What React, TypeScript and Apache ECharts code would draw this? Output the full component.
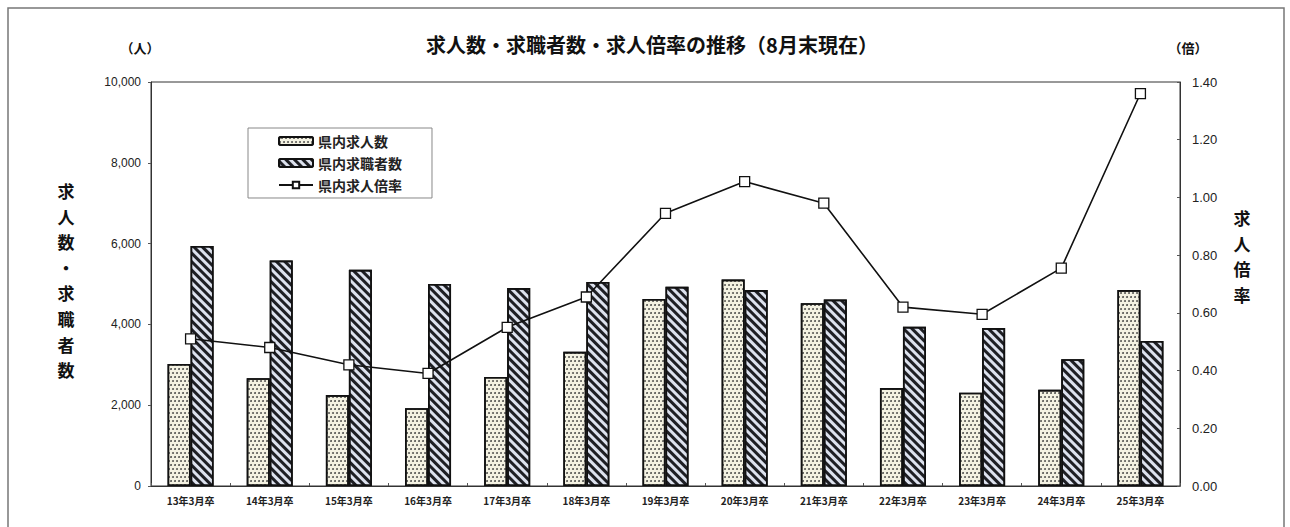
import React, { useEffect, useRef } from "react";
import * as echarts from "echarts";

const categories = [
  "13年3月卒", "14年3月卒", "15年3月卒", "16年3月卒", "17年3月卒", "18年3月卒", "19年3月卒",
  "20年3月卒", "21年3月卒", "22年3月卒", "23年3月卒", "24年3月卒", "25年3月卒",
];
const jobOffers = [3020, 2670, 2250, 1925, 2700, 3320, 4630, 5110, 4525, 2425, 2310, 2380, 4850];
const jobSeekers = [5940, 5580, 5350, 5000, 4900, 5050, 4930, 4850, 4615, 3940, 3910, 3140, 3590];
const offerRatio = [0.51, 0.48, 0.42, 0.39, 0.55, 0.655, 0.945, 1.055, 0.98, 0.62, 0.595, 0.755, 1.36];
const leftTicks = ["0", "2,000", "4,000", "6,000", "8,000", "10,000"];
const rightTicks = ["0.00", "0.20", "0.40", "0.60", "0.80", "1.00", "1.20", "1.40"];

const FONT = "'Noto Sans CJK JP', 'Liberation Sans', sans-serif";

export default function App() {
  const ref = useRef<HTMLDivElement>(null);
  useEffect(() => {
    if (!ref.current) return;
    const chart = echarts.init(ref.current, undefined, { renderer: "svg" });
    const option: any = {
      animation: false,
      backgroundColor: "#ffffff",
      textStyle: { fontFamily: FONT },
      grid: {
        left: 151, right: 110, top: 82, bottom: 41,
        show: true, borderColor: "#333", borderWidth: 1, backgroundColor: "transparent",
      },
      legend: {
        orient: "vertical",
        left: 248, top: 128,
        padding: [6, 30, 6, 30],
        itemGap: 8,
        itemWidth: 34, itemHeight: 8,
        borderColor: "#888", borderWidth: 1,
        backgroundColor: "#fff",
        textStyle: { fontSize: 14, fontWeight: "bold", color: "#222", fontFamily: FONT },
        data: ["県内求人数", "県内求職者数", "県内求人倍率"],
      },
      xAxis: {
        type: "category",
        data: categories,
        axisLine: { lineStyle: { color: "#333", width: 1 } },
        axisTick: { show: true, inside: true, length: 3, lineStyle: { color: "#555" } },
        axisLabel: { fontSize: 10, fontWeight: "bold", color: "#222", margin: 9, fontFamily: FONT },
      },
      yAxis: [
        {
          type: "value", min: 0, max: 10000, interval: 2000,
          axisLine: { show: true, lineStyle: { color: "#333" } },
          axisTick: { show: true, length: 3, lineStyle: { color: "#555" } },
          splitLine: { show: false },
          axisLabel: {
            fontSize: 12, color: "#222", margin: 10, fontFamily: "'Liberation Sans', sans-serif",
            formatter: (v: number) => leftTicks[Math.round(v / 2000)] ?? "",
          },
        },
        {
          type: "value", min: 0, max: 1.4, interval: 0.2,
          axisLine: { show: true, lineStyle: { color: "#333" } },
          axisTick: { show: true, inside: true, length: 3, lineStyle: { color: "#555" } },
          splitLine: { show: false },
          axisLabel: {
            fontSize: 13, color: "#222", margin: 12, fontFamily: "'Liberation Sans', sans-serif",
            formatter: (v: number) => rightTicks[Math.round(v / 0.2)] ?? "",
          },
        },
      ],
      series: [
        {
          name: "県内求人数",
          type: "bar",
          data: jobOffers,
          barWidth: 23,
          barGap: "0%",
          itemStyle: {
            color: "#f4f2e2",
            borderColor: "#111",
            borderWidth: 1.6,
            decal: {
              symbol: "circle",
              symbolSize: 0.9,
              color: "rgba(50,50,50,0.9)",
              dashArrayX: [[2, 2], [0, 2, 2, 0]],
              dashArrayY: [2, 1.2],
              rotation: 0,
            },
          },
        },
        {
          name: "県内求職者数",
          type: "bar",
          data: jobSeekers,
          barWidth: 23,
          barGap: "0%",
          itemStyle: {
            color: "#dde2ee",
            borderColor: "#111",
            borderWidth: 1.6,
            decal: {
              symbol: "rect",
              symbolSize: 1,
              color: "rgba(20,20,25,0.95)",
              dashArrayX: [1, 0],
              dashArrayY: [2.6, 2.4],
              rotation: Math.PI / 4,
            },
          },
        },
        {
          name: "県内求人倍率",
          type: "line",
          yAxisIndex: 1,
          data: offerRatio,
          symbol: "rect",
          symbolSize: 10,
          lineStyle: { color: "#111", width: 1.6 },
          itemStyle: { color: "#fff", borderColor: "#111", borderWidth: 1.3 },
          z: 5,
        },
      ],
      graphic: [
        {
          type: "rect", z: -1,
          shape: { x: 8, y: 8, width: 1276, height: 540 },
          style: { fill: "none", stroke: "#777", lineWidth: 1.5 },
        },
        {
          type: "text", x: 652, y: 44,
          style: {
            text: "求人数・求職者数・求人倍率の推移（8月末現在）",
            fontSize: 20, fontWeight: "bold", fill: "#111", fontFamily: FONT,
            align: "center", verticalAlign: "middle",
          },
        },
        {
          type: "text", x: 140, y: 47,
          style: { text: "（人）", fontSize: 13, fontWeight: "bold", fill: "#111", fontFamily: FONT, align: "center", verticalAlign: "middle" },
        },
        {
          type: "text", x: 1188, y: 47,
          style: { text: "（倍）", fontSize: 13, fontWeight: "bold", fill: "#111", fontFamily: FONT, align: "center", verticalAlign: "middle" },
        },
        {
          type: "text", x: 66, y: 280,
          style: {
            text: "求\n人\n数\n・\n求\n職\n者\n数",
            fontSize: 17, lineHeight: 25.6, fontWeight: "bold", fill: "#111", fontFamily: FONT,
            align: "center", verticalAlign: "middle",
          },
        },
        {
          type: "text", x: 1242, y: 256,
          style: {
            text: "求\n人\n倍\n率",
            fontSize: 17, lineHeight: 25.6, fontWeight: "bold", fill: "#111", fontFamily: FONT,
            align: "center", verticalAlign: "middle",
          },
        },
      ],
    };
    chart.setOption(option);
    return () => chart.dispose();
  }, []);
  return (
    <div
      ref={ref}
      style={{ position: "fixed", left: 0, top: 0, width: 1290, height: 527, background: "#fff" }}
    />
  );
}
